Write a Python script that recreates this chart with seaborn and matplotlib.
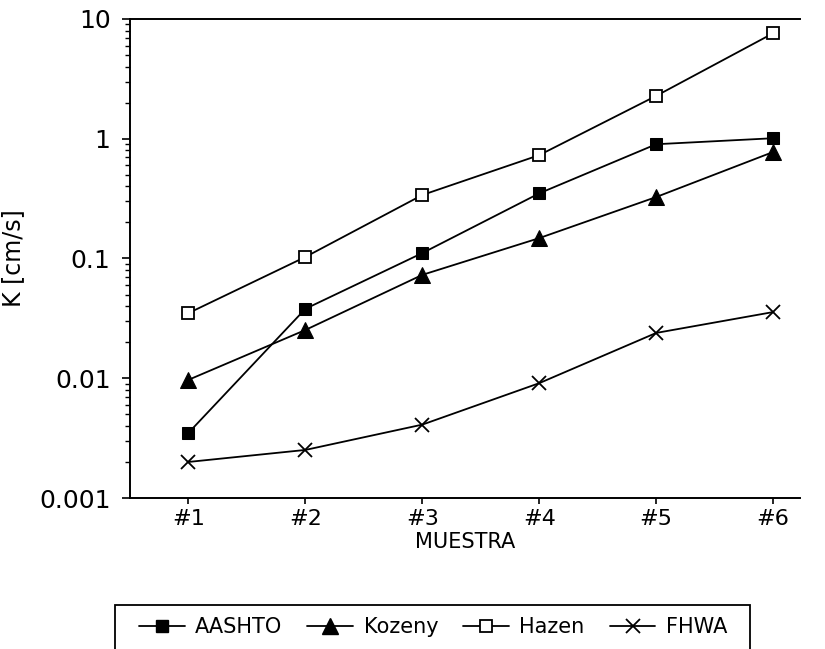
import matplotlib
matplotlib.use("Agg")
import matplotlib.pyplot as plt
import matplotlib.ticker as mticker
from matplotlib.patches import Rectangle
from matplotlib.lines import Line2D
import seaborn as sns
import pandas as pd

sns.set_style("ticks")
plt.rcParams['font.family'] = ['DejaVu Sans']
for k in ['text.color', 'axes.labelcolor', 'xtick.color', 'ytick.color', 'axes.edgecolor']:
    plt.rcParams[k] = 'black'

samples = ["#1", "#2", "#3", "#4", "#5", "#6"]
aashto = [0.0035, 0.038, 0.111, 0.35, 0.90, 1.01]
kozeny = [0.0097, 0.0253, 0.073, 0.148, 0.326, 0.775]
hazen = [0.035, 0.103, 0.339, 0.73, 2.28, 7.6]
fhwa = [0.0020, 0.00252, 0.0041, 0.0091, 0.0239, 0.0357]

series = [
    ("AASHTO", aashto, dict(marker='s', markersize=8, markerfacecolor='black', markeredgecolor='black')),
    ("Kozeny", kozeny, dict(marker='^', markersize=11, markerfacecolor='black', markeredgecolor='black')),
    ("Hazen", hazen, dict(marker='s', markersize=9, markerfacecolor='white', markeredgecolor='black', markeredgewidth=1.3)),
    ("FHWA", fhwa, dict(marker='x', markersize=10, markeredgecolor='black', markeredgewidth=1.3)),
]

fig = plt.figure(figsize=(8.25, 6.49), dpi=100)
ax = fig.add_axes([130/825, 1-498/649, (800-130)/825, (498-19)/649])

pos = list(range(1, len(samples)+1))
handles = []
for name, vals, style in series:
    df = pd.DataFrame({"x": pos, "y": vals})
    sns.lineplot(data=df, x="x", y="y", ax=ax, color='black', linewidth=1.3, **style)
    handles.append(Line2D([0], [0], color='black', linewidth=1.3, label=name, **style))

ax.set_yscale('log')
ax.set_ylim(0.001, 10)
ax.set_xlim(0.5, 6.23)
ax.set_xticks(pos)
ax.set_xticklabels(samples, fontsize=16)
ax.yaxis.set_major_locator(mticker.LogLocator(base=10, numticks=10))
ax.yaxis.set_major_formatter(mticker.FuncFormatter(lambda v, p: ('%g' % v)))
ax.yaxis.set_minor_locator(mticker.LogLocator(base=10, subs=range(2, 10), numticks=20))
ax.yaxis.set_minor_formatter(mticker.NullFormatter())
ax.tick_params(axis='y', which='major', length=6, width=1.2, labelsize=18, pad=8, direction='out')
ax.tick_params(axis='y', which='minor', length=3.5, width=1.0, direction='out')
ax.tick_params(axis='x', which='major', length=4, width=1.2, pad=4, direction='out')

for s in ['left', 'top', 'bottom']:
    ax.spines[s].set_linewidth(1.4)
ax.spines['right'].set_visible(False)

ax.set_xlabel("MUESTRA", fontsize=15, labelpad=2)
ax.set_ylabel("K [cm/s]", fontsize=17, labelpad=10)

# legend frame (extends past bottom of the figure)
fig.patches.append(Rectangle((115/825, -0.05), (750-115)/825, 0.05 + 1-605/649,
                             transform=fig.transFigure, fill=False, edgecolor='black', linewidth=1.3))
leg = fig.legend(handles=handles, loc='center left', bbox_to_anchor=(120/825, 1-627/649),
                 ncol=4, frameon=False, fontsize=15, handlelength=2.2, handletextpad=0.5,
                 columnspacing=1.2)

fig.savefig("out.png", dpi=100)
